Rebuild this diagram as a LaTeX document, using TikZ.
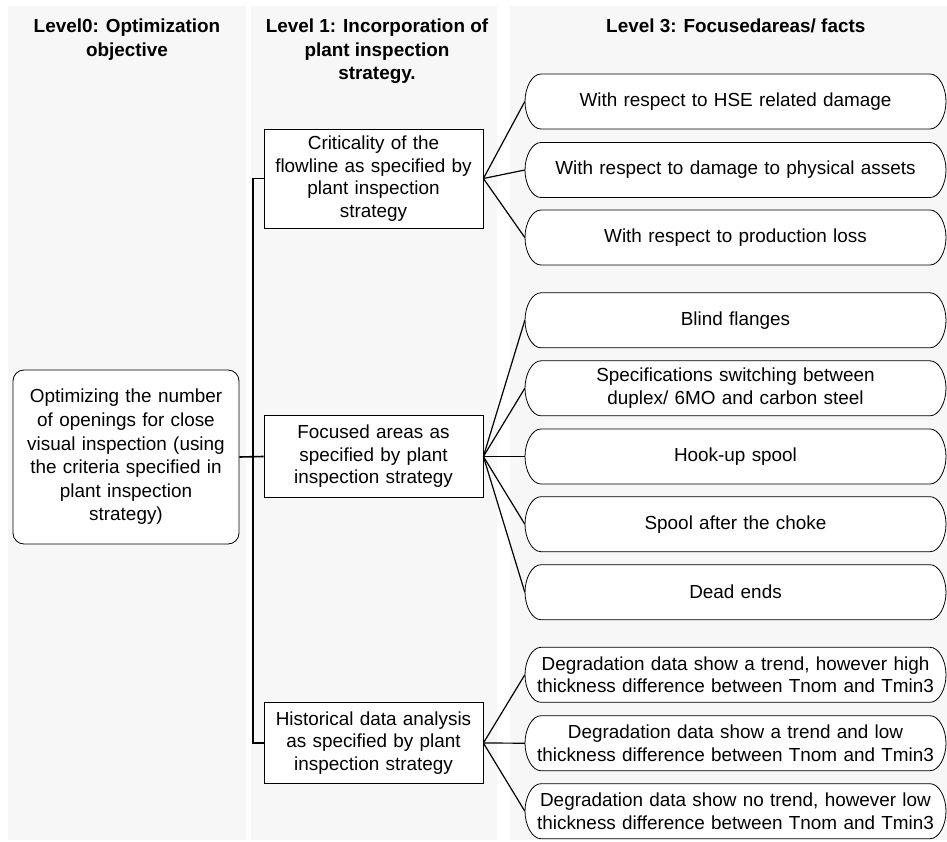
\documentclass[tikz,border=0pt]{standalone}
\usepackage{fontspec}
\setmainfont{Liberation Sans}
\usetikzlibrary{calc}

\tikzset{
  colbg/.style={fill=black!3, draw=none},
  head/.style={font=\fontsize{18.9}{23.5}\selectfont\bfseries, align=center, anchor=north, inner sep=0pt},
  goalbox/.style={draw, line width=0.8pt, rounded corners=11pt, fill=white,
    minimum width=226pt, minimum height=174pt, text width=220pt, align=center,
    inner sep=0pt, font=\fontsize{18.9}{23.6}\selectfont},
  stratbox/.style={draw, line width=0.8pt, fill=white, minimum width=219pt,
    text width=212pt, align=center, inner sep=0pt},
  factbox/.style={draw=none, minimum width=421pt, minimum height=55pt,
    text width=410pt, align=center, inner sep=0pt},
  factshape/.pic={
    \draw[line width=0.8pt, fill=white]
      (16,-27.5) -- (405,-27.5)
      .. controls (414,-27.5) and (421,-14) .. (421,0)
      .. controls (421,14) and (414,27.5) .. (405,27.5)
      -- (16,27.5)
      .. controls (7,27.5) and (0,14) .. (0,0)
      .. controls (0,-14) and (7,-27.5) .. (16,-27.5) -- cycle;
  },
  bus/.style={line width=1.6pt},
  fan/.style={line width=1.2pt}
}

\begin{document}
\begin{tikzpicture}[x=1pt, y=-1pt, font=\fontsize{18.9}{22.5}\selectfont]
\useasboundingbox (0,0) rectangle (947,842);

% column backgrounds
\fill[colbg] (8,6) rectangle (245.6,840);
\fill[colbg] (250.7,6) rectangle (496.7,840);
\fill[colbg] (510,6) rectangle (947,840);

% column headings
\node[head] (h0) at (127,19) {Level0: Optimization\\objective};
\node[head] (h1) at (377,19) {Level 1: Incorporation of\\plant inspection\\strategy.};
\node[head] (h3) at (735.8,19) {Level 3: Focusedareas/ facts};

% level 0
\node[goalbox] (goal) at (126,457) {Optimizing the number\\of openings for close\\visual inspection (using\\the criteria specified in\\plant inspection\\strategy)};

% level 1
\node[stratbox, minimum height=99pt] (crit) at (373.5,178.5) {Criticality of the\\flowline as specified by\\plant inspection\\strategy};
\node[stratbox, minimum height=81.6pt] (focus) at (373.5,456.5) {Focused areas as\\specified by plant\\inspection strategy};
\node[stratbox, minimum height=80.6pt] (hist) at (373.5,743) {Historical data analysis\\as specified by plant\\inspection strategy};

% level 3 outlines
\foreach \c in {101.5,170,237.5,320.3,388.3,456.5,524.2,592.2,674.8,743.2,811.2}
  \pic at (525,\c) {factshape};

% level 3 texts
\node[factbox] (f1) at (735.5,101.5) {With respect to HSE related damage};
\node[factbox] (f2) at (735.5,170) {With respect to damage to physical assets};
\node[factbox] (f3) at (735.5,237.5) {With respect to production loss};
\node[factbox] (f4) at (735.5,320.3) {Blind flanges};
\node[factbox] (f5) at (735.5,388.3) {Specifications switching between\\duplex/ 6MO and carbon steel};
\node[factbox] (f6) at (735.5,456.5) {Hook-up spool};
\node[factbox] (f7) at (735.5,524.2) {Spool after the choke};
\node[factbox] (f8) at (735.5,592.2) {Dead ends};
\node[factbox] (f9) at (735.5,674.8) {Degradation data show a trend, however high\\thickness difference between Tnom and Tmin3};
\node[factbox] (f10) at (735.5,743.2) {Degradation data show a trend and low\\thickness difference between Tnom and Tmin3};
\node[factbox] (f11) at (735.5,811.2) {Degradation data show no trend, however low\\thickness difference between Tnom and Tmin3};

% tree bus between level 0 and level 1
\coordinate (busT) at (253,178.5);
\coordinate (busB) at (253,743);
\draw[bus] (crit.west) -- (busT) -- (busB) -- (hist.west);
\draw[bus] (goal.east) -- (focus.west);

% fan-out to level 3
\foreach \f in {f1,f2,f3} \draw[fan] (crit.east) -- (\f.west);
\foreach \f in {f4,f5,f6,f7,f8} \draw[fan] (focus.east) -- (\f.west);
\foreach \f in {f9,f10,f11} \draw[fan] (hist.east) -- (\f.west);
\end{tikzpicture}
\end{document}
